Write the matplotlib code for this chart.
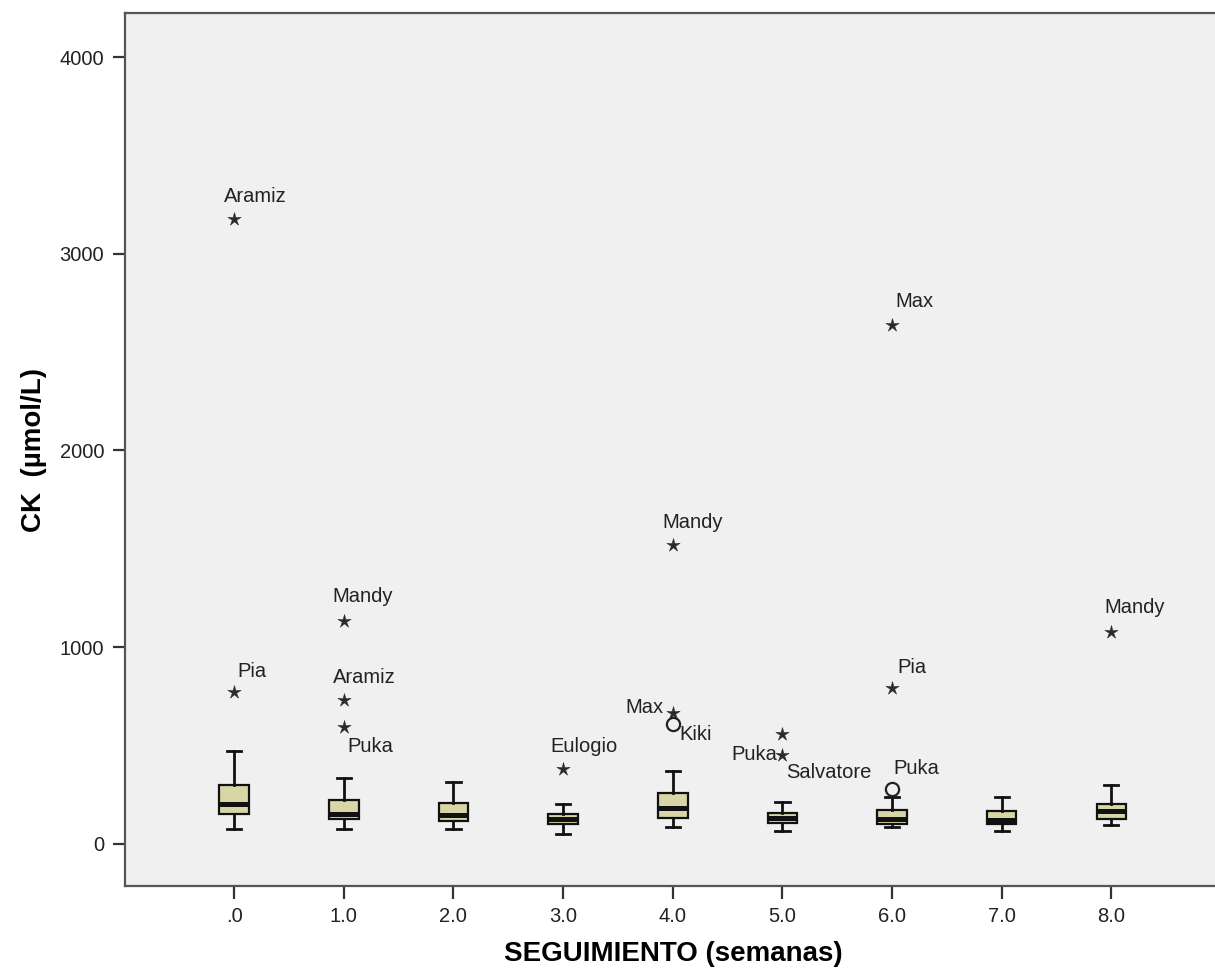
import numpy as np
import matplotlib
matplotlib.use("Agg")
import matplotlib.pyplot as plt
from matplotlib.path import Path

plt.rcParams['font.family'] = ['Liberation Sans', 'DejaVu Sans']

# semanas de seguimiento
semanas = [0, 1, 2, 3, 4, 5, 6, 7, 8]
etiquetas_x = ['.0', '1.0', '2.0', '3.0', '4.0', '5.0', '6.0', '7.0', '8.0']

# resumen de cada caja (CK, umol/L)
bigote_inf = [77, 78, 78, 52, 87, 66, 88, 66, 95]
q1 = [154, 126, 117, 103, 131, 108, 103, 103, 126]
mediana = [205, 154, 146, 126, 185, 134, 128, 122, 168]
q3 = [300, 224, 207, 151, 261, 156, 171, 168, 205]
bigote_sup = [470, 337, 317, 202, 372, 214, 238, 236, 299]

# valores atipicos: semana, valor, tipo, nombre
at_semana = [0, 0, 1, 1, 1, 3, 4, 4, 4, 5, 5, 6, 6, 6, 8]
at_valor = [3176, 772, 1135, 731, 592, 380, 1517, 668, 609, 558, 453, 2636, 794, 280, 1079]
at_extremo = [True, True, True, True, True, True, True, True, False, True, True, True, True, False, True]
at_nombre = ['Aramiz', 'Pia', 'Mandy', 'Aramiz', 'Puka', 'Eulogio', 'Mandy', 'Max', 'Kiki',
             '', 'Puka', 'Max', 'Pia', 'Puka', 'Mandy']
# desplazamiento del rotulo en pixeles (dx, dy, alineacion)
at_offset = [(-10, 23, 'left'), (3, 21, 'left'), (-11, 24, 'left'), (-11, 23, 'left'),
             (4, -19, 'left'), (-13, 23, 'left'), (-10, 23, 'left'), (-9, 5, 'right'),
             (7, -10, 'left'), (0, 0, 'left'), (-5, 0, 'right'), (3, 24, 'left'),
             (5, 20, 'left'), (1, 20, 'left'), (-7, 24, 'left')]
extra_rotulo = ('Salvatore', 5, 453, 4, -18)

fig = plt.figure(figsize=(12.15, 9.74), dpi=100)
ax = fig.add_axes([125 / 1215, 1 - 886 / 974, 1096 / 1215, (886 - 13) / 974])
ax.set_facecolor('#f0f0f0')

stats = []
for i in range(len(semanas)):
    stats.append(dict(whislo=bigote_inf[i], q1=q1[i], med=mediana[i],
                      q3=q3[i], whishi=bigote_sup[i], fliers=[]))

ax.bxp(stats, positions=semanas, widths=0.27, capwidths=0.13, patch_artist=True,
       showfliers=False,
       boxprops=dict(facecolor='#d8d5a6', edgecolor='#111111', linewidth=1.6),
       medianprops=dict(color='#111111', linewidth=3.6),
       whiskerprops=dict(color='#111111', linewidth=2),
       capprops=dict(color='#111111', linewidth=2))

estrella = Path.unit_regular_star(5, 0.33)
sx = [s for s, e in zip(at_semana, at_extremo) if e]
sy = [v for v, e in zip(at_valor, at_extremo) if e]
cx = [s for s, e in zip(at_semana, at_extremo) if not e]
cy = [v for v, e in zip(at_valor, at_extremo) if not e]
ax.plot(sx, sy, linestyle='none', marker=estrella, markersize=10,
        color='#2a2a2a', markeredgewidth=0.4)
ax.plot(cx, cy, linestyle='none', marker='o', markersize=9.5,
        markerfacecolor='none', markeredgecolor='#222222', markeredgewidth=1.6)

for s, v, n, (dx, dy, ha) in zip(at_semana, at_valor, at_nombre, at_offset):
    if n:
        ax.annotate(n, (s, v), xytext=(dx, dy), textcoords='offset pixels',
                    ha=ha, va='center', fontsize=14.5, color='#222222')
n, s, v, dx, dy = extra_rotulo
ax.annotate(n, (s, v), xytext=(dx, dy), textcoords='offset pixels',
            ha='left', va='center', fontsize=14.5, color='#222222')

ax.set_xlim(-0.995, 9.0)
ax.set_ylim(-214, 4224)
ax.set_xticks(semanas)
ax.set_xticklabels(etiquetas_x)
ax.set_yticks([0, 1000, 2000, 3000, 4000])
ax.tick_params(direction='out', length=9, width=1.6, color='#333333',
               labelsize=14.5, labelcolor='#222222', pad=6)

for sp in ax.spines.values():
    sp.set_color('#555555')
    sp.set_linewidth(1.6)

ax.set_ylabel('CK  (µmol/L)', fontsize=20, fontweight='bold', labelpad=9)
ax.set_xlabel('SEGUIMIENTO (semanas)', fontsize=20, fontweight='bold', labelpad=11)

fig.savefig('out.png', dpi=100, facecolor='white')
